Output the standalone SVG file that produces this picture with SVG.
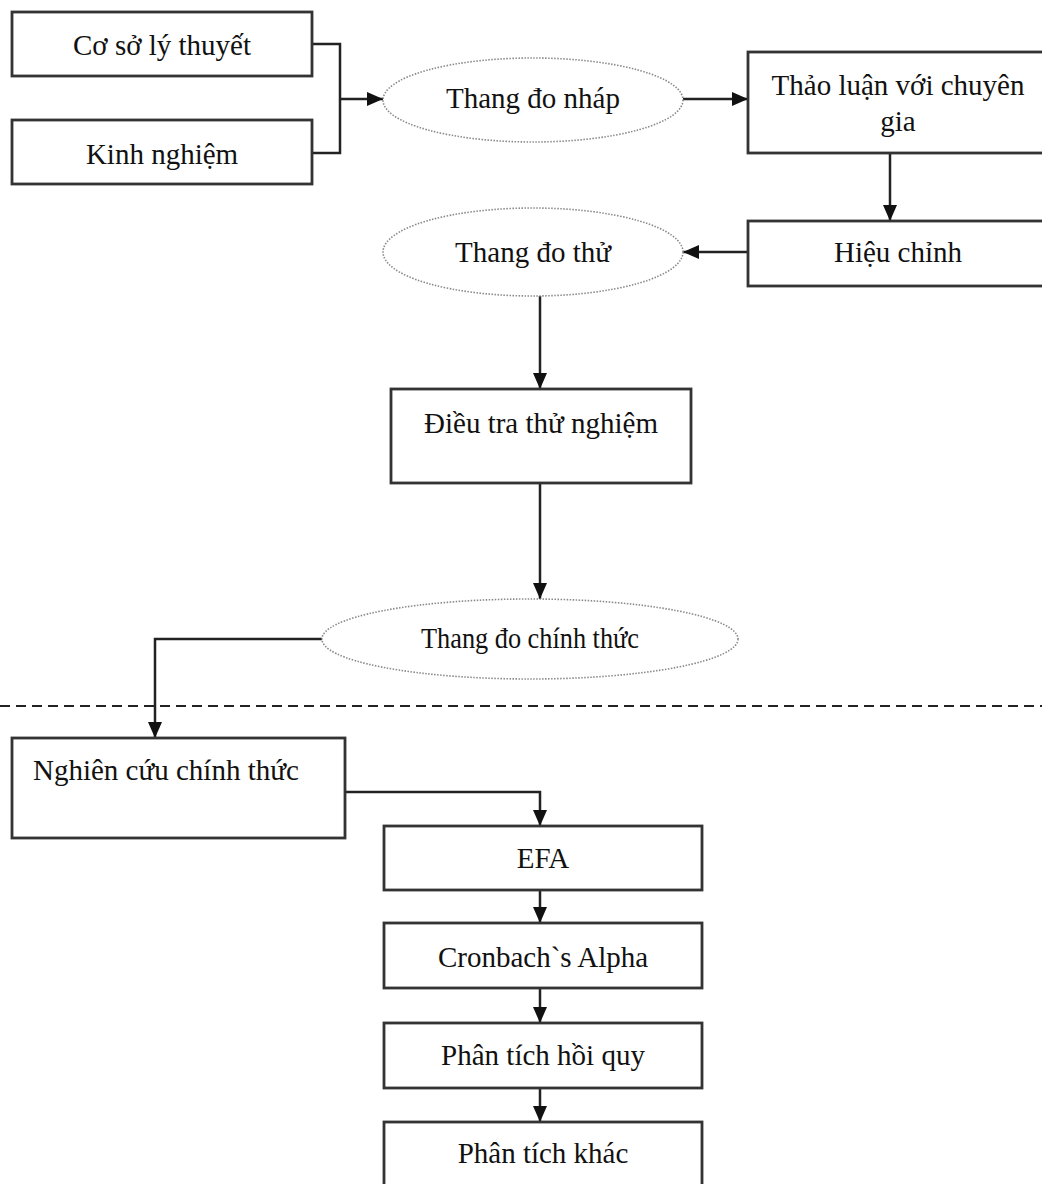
<svg xmlns="http://www.w3.org/2000/svg" width="1042" height="1184" viewBox="0 0 1042 1184">
<defs>
<marker id="arr" viewBox="0 0 16 14" refX="16" refY="7" markerWidth="16" markerHeight="14" markerUnits="userSpaceOnUse" orient="auto">
<path d="M0,0 L16,7 L0,14 Z" fill="#111"/>
</marker>
</defs>
<style>
.box{fill:#fff;stroke:#333;stroke-width:2.8}
.ell{fill:#fff;stroke:#8a8a8a;stroke-width:1.6;stroke-dasharray:1.5 1.5}
.t{font-family:"Liberation Serif","Times New Roman",serif;font-size:29px;fill:#111;text-anchor:middle}
.tl{text-anchor:start}
.c{fill:none;stroke:#222;stroke-width:2.5}
.ca{fill:none;stroke:#222;stroke-width:2.5;marker-end:url(#arr)}
.dash{fill:none;stroke:#222;stroke-width:2;stroke-dasharray:10 6}
</style>
<rect width="1042" height="1184" fill="#fff"/>

<g id="connectors">
<path class="c" d="M312,44 H340 V153 H312"/>
<path class="ca" d="M340,99 H383"/>
<path class="ca" d="M683,99 H748"/>
<path class="ca" d="M890,153 V221"/>
<path class="ca" d="M748,252 H683"/>
<path class="ca" d="M540,296 V389"/>
<path class="ca" d="M540,483 V599"/>
<path class="ca" d="M322,639 H155 V738"/>
<path class="ca" d="M345,792 H540 V826"/>
<path class="ca" d="M540,890 V923"/>
<path class="ca" d="M540,988 V1023"/>
<path class="ca" d="M540,1088 V1122"/>
</g>

<line id="separator" class="dash" x1="0" y1="706" x2="1042" y2="706"/>

<g id="n-coso">
<rect class="box" x="12" y="12" width="300" height="64"/>
<text class="t" x="162" y="55">Cơ sở lý thuyết</text>
</g>
<g id="n-kinhnghiem">
<rect class="box" x="12" y="120" width="300" height="64"/>
<text class="t" x="162" y="164">Kinh nghiệm</text>
</g>
<g id="n-thangdonhap">
<ellipse class="ell" cx="533" cy="100" rx="150" ry="42"/>
<text class="t" x="533" y="108">Thang đo nháp</text>
</g>
<g id="n-thaoluan">
<rect class="box" x="748" y="52" width="300" height="101"/>
<text class="t" x="898" y="95">Thảo luận với chuyên</text>
<text class="t" x="898" y="131">gia</text>
</g>
<g id="n-hieuchinh">
<rect class="box" x="748" y="221" width="300" height="65"/>
<text class="t" x="898" y="262">Hiệu chỉnh</text>
</g>
<g id="n-thangdothu">
<ellipse class="ell" cx="533" cy="252" rx="150" ry="44"/>
<text class="t" x="533" y="262">Thang đo thử</text>
</g>
<g id="n-dieutra">
<rect class="box" x="391" y="389" width="300" height="94"/>
<text class="t" x="541" y="433">Điều tra thử nghiệm</text>
</g>
<g id="n-thangdochinhthuc">
<ellipse class="ell" cx="530" cy="639" rx="208" ry="40"/>
<text class="t" x="530" y="648" textLength="218" lengthAdjust="spacingAndGlyphs">Thang đo chính thức</text>
</g>
<g id="n-nghiencuu">
<rect class="box" x="12" y="738" width="333" height="100"/>
<text class="t tl" x="33" y="780">Nghiên cứu chính thức</text>
</g>
<g id="n-efa">
<rect class="box" x="384" y="826" width="318" height="64"/>
<text class="t" x="543" y="868">EFA</text>
</g>
<g id="n-cronbach">
<rect class="box" x="384" y="923" width="318" height="65"/>
<text class="t" x="543" y="967">Cronbach`s Alpha</text>
</g>
<g id="n-hoiquy">
<rect class="box" x="384" y="1023" width="318" height="65"/>
<text class="t" x="543" y="1065">Phân tích hồi quy</text>
</g>
<g id="n-khac">
<rect class="box" x="384" y="1122" width="318" height="80"/>
<text class="t" x="543" y="1163">Phân tích khác</text>
</g>
</svg>
